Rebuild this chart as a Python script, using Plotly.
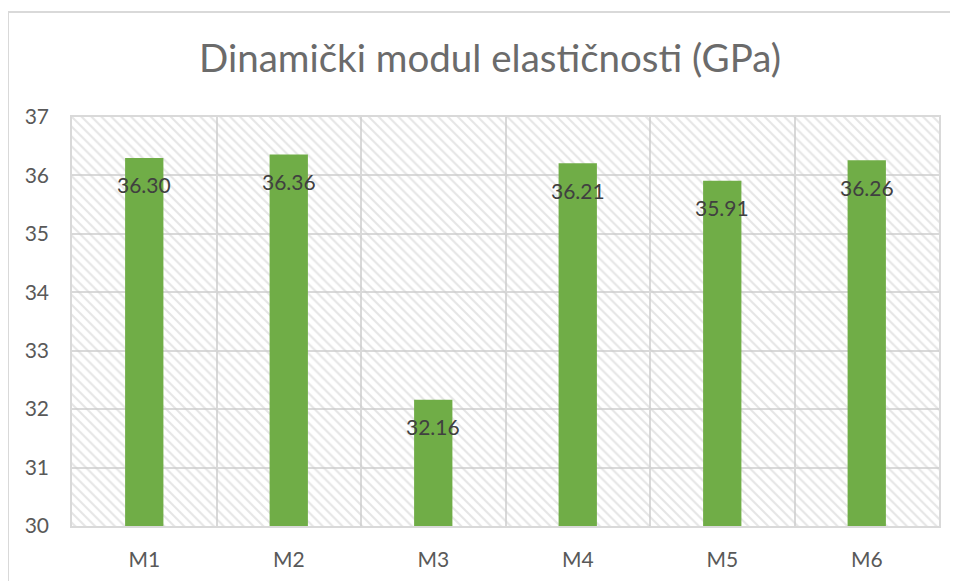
import plotly.graph_objects as go

categories = ["M1", "M2", "M3", "M4", "M5", "M6"]
values = [36.30, 36.36, 32.16, 36.21, 35.91, 36.26]
y_min, y_max = 30, 37

# page body adds an 8px offset, so margins are shifted to compensate
W, H = 958, 581
OFF = 8
L, R, T, B = 72 - OFF, 19 + OFF, 117 - OFF, 55 + OFF
pw, ph = W - L - R, H - T - B

fig = go.Figure()

# hatched plot background
fig.add_trace(go.Bar(
    x=categories, y=[y_max - y_min] * len(categories), base=y_min, width=1,
    marker=dict(color="rgba(0,0,0,0)", line_width=0,
                pattern=dict(shape="\\", fgcolor="#cccccc", bgcolor="rgba(0,0,0,0)",
                             size=7, solidity=0.3)),
    hoverinfo="skip", showlegend=False,
))

fig.add_trace(go.Bar(
    x=categories, y=[v - y_min for v in values], base=y_min, width=0.265,
    marker=dict(color="#70AD47", line_width=0), showlegend=False,
))

for c, v in zip(categories, values):
    fig.add_annotation(x=c, y=v, text=f"{v:.2f}", showarrow=False,
                       yanchor="middle", yshift=-27,
                       font=dict(family="Lato", size=21, color="#404040"))

# chart area border
fig.add_shape(type="rect", xref="paper", yref="paper",
              x0=(8 - OFF - L) / pw, x1=1.3, y0=-0.5, y1=(H - B - (12 - OFF)) / ph,
              line=dict(color="#d9d9d9", width=2), layer="below")

fig.update_layout(
    width=W, height=H, margin=dict(l=L, r=R, t=T, b=B),
    barmode="overlay", plot_bgcolor="white", paper_bgcolor="white",
    title=dict(text="Dinamički modul elastičnosti (GPa)", x=(490 - OFF) / W, xanchor="center",
               y=1 - (59 - OFF) / H, yanchor="middle",
               font=dict(family="Lato", size=38.5, color="#6b6b6b")),
    font=dict(family="Lato", color="#595959"),
)
fig.update_xaxes(tickson="boundaries", showgrid=True, gridcolor="#d9d9d9", gridwidth=1.5,
                 showline=True, mirror=True, linecolor="#d9d9d9", linewidth=1.5,
                 ticks="", ticklabelstandoff=14,
                 tickfont=dict(size=21, color="#595959"))
fig.update_yaxes(range=[y_min, y_max], dtick=1, showgrid=True, gridcolor="#d9d9d9",
                 gridwidth=1.5, showline=True, mirror=True, linecolor="#d9d9d9",
                 linewidth=1.5, zeroline=False,
                 ticks="outside", ticklen=17, tickcolor="rgba(0,0,0,0)",
                 tickfont=dict(size=21, color="#595959"))

fig.write_html("out.html")
